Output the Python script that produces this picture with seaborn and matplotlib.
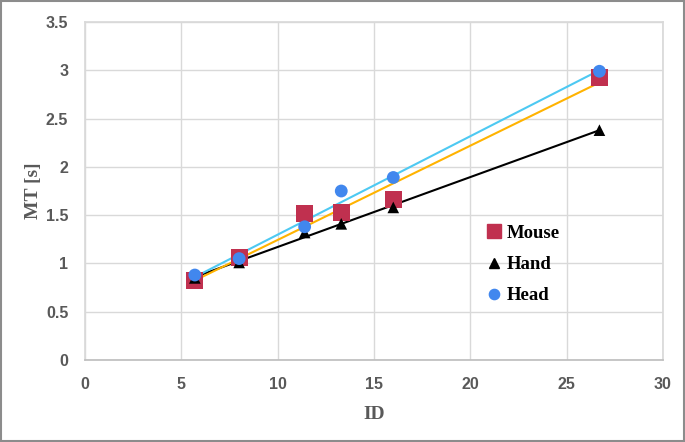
import numpy as np
import pandas as pd
import matplotlib
matplotlib.use("Agg")
import matplotlib.pyplot as plt
import seaborn as sns
from matplotlib.patches import Rectangle

# values
ids = [5.7, 8.0, 11.4, 13.3, 16.0, 26.7]
mouse = [0.82, 1.06, 1.52, 1.53, 1.66, 2.93]
hand = [0.85, 1.01, 1.32, 1.41, 1.58, 2.38]
head = [0.88, 1.05, 1.38, 1.75, 1.89, 2.99]

groups = ["Mouse", "Hand", "Head"]
marker_colors = {"Mouse": "#C0304F", "Hand": "#000000", "Head": "#4187EE"}
line_colors = {"Mouse": "#FFB300", "Hand": "#000000", "Head": "#4DC9F2"}
markers = {"Mouse": "s", "Hand": "^", "Head": "o"}
sizes = {"Mouse": 150, "Hand": 70, "Head": 85}

df = pd.DataFrame({
    "ID": ids * 3,
    "MT": mouse + hand + head,
    "Device": ["Mouse"] * 6 + ["Hand"] * 6 + ["Head"] * 6,
})

sns.set_theme(style="white")
fig = plt.figure(figsize=(6.85, 4.42), dpi=100)
ax = fig.add_axes([0.1241, 0.1855, 0.8438, 0.7647])

# trend lines (linear fits over the data range)
for g in ["Hand", "Mouse", "Head"]:
    sub = df[df["Device"] == g]
    sns.regplot(data=sub, x="ID", y="MT", ax=ax, scatter=False, ci=None,
                truncate=True, color=line_colors[g], line_kws={"lw": 1.5})

handles = []
for g in groups:
    sub = df[df["Device"] == g]
    sns.scatterplot(data=sub, x="ID", y="MT", ax=ax, marker=markers[g],
                    s=sizes[g], color=marker_colors[g], edgecolor="none",
                    zorder=3)
    handles.append(plt.Line2D([], [], ls="none", marker=markers[g],
                              color=marker_colors[g], markersize=np.sqrt(sizes[g]) * 0.8,
                              label=g))

ax.set_xlim(0, 30)
ax.set_ylim(0, 3.5)
ax.set_xticks(range(0, 31, 5))
ax.set_yticks(np.arange(0, 3.51, 0.5))
ax.set_yticklabels(["0", "0.5", "1", "1.5", "2", "2.5", "3", "3.5"])
ax.grid(True, color="#D9D9D9", lw=1)
for s in ax.spines.values():
    s.set_color("#D9D9D9")
ax.spines["bottom"].set_color("#BFBFBF")
ax.tick_params(axis="both", length=0, pad=12, labelcolor="#595959", labelsize=11.5)
for lab in ax.get_xticklabels() + ax.get_yticklabels():
    lab.set_fontweight("bold")
    lab.set_family("Liberation Sans")

ax.set_xlabel("ID", family="Liberation Serif", fontweight="bold",
              fontsize=14, color="#595959", labelpad=10)
ax.set_ylabel("MT [s]", family="Liberation Serif", fontweight="bold",
              fontsize=14, color="#595959", labelpad=3)

leg = ax.legend(handles=handles, loc="upper left", bbox_to_anchor=(0.665, 0.45),
                frameon=False, handlelength=0.8, handletextpad=0.3,
                labelspacing=0.75, prop={"family": "Liberation Serif",
                                         "weight": "bold", "size": 13.5})
for t in leg.get_texts():
    t.set_color("black")

fig.patches.append(Rectangle((0.002, 0.003), 0.996, 0.994, transform=fig.transFigure,
                             fill=False, edgecolor="#8C8C8C", lw=1.5))

fig.savefig("out.png", dpi=100)
